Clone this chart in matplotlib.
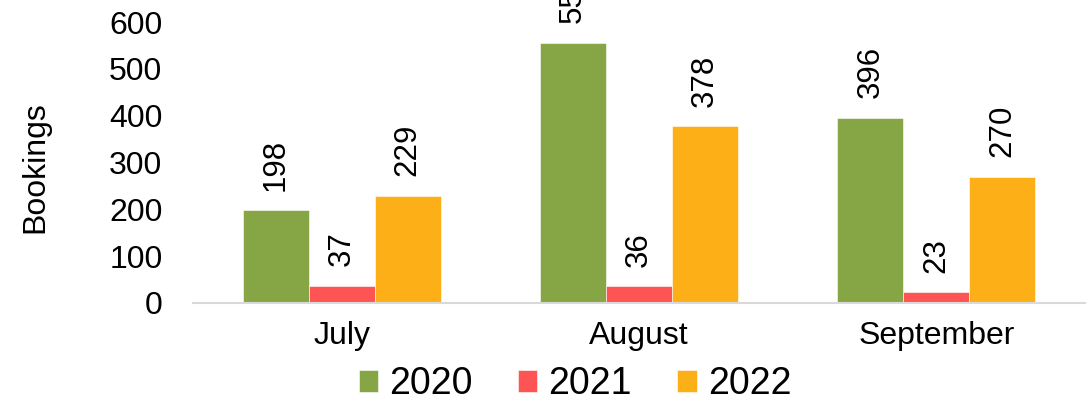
import matplotlib
matplotlib.use("Agg")
import matplotlib.pyplot as plt
import numpy as np

months = ["July", "August", "September"]
years = ["2020", "2021", "2022"]
bookings_2020 = [198, 556, 396]
bookings_2021 = [37, 36, 23]
bookings_2022 = [229, 378, 270]
colors = ["#86A545", "#FF5454", "#FCAF17"]

plt.rcParams["font.family"] = ["Liberation Sans", "DejaVu Sans"]

fig = plt.figure(figsize=(10.92, 4.01), dpi=100)
ax = fig.add_axes([193 / 1092, (401 - 303) / 401, (1085 - 193) / 1092, (303 - 22) / 401])

x = np.arange(len(months))
width = 0.222
series = [bookings_2020, bookings_2021, bookings_2022]
for i, (vals, col, lab) in enumerate(zip(series, colors, years)):
    bars = ax.bar(x + (i - 1) * width, vals, width, color=col, label=lab,
                  edgecolor="white", linewidth=0.4)
    for b, v in zip(bars, vals):
        ax.annotate(str(v), (b.get_x() + b.get_width() / 2, v),
                    xytext=(0, 14), textcoords="offset points",
                    rotation=90, ha="center", va="bottom", fontsize=22.5,
                    annotation_clip=False)

ax.set_xlim(-0.5, 2.5)
ax.set_ylim(0, 600)
ax.set_yticks(range(0, 601, 100))
ax.set_xticks(x)
ax.set_xticklabels(months)
ax.tick_params(axis="both", length=0, labelsize=23)
ax.tick_params(axis="y", pad=22)
ax.tick_params(axis="x", pad=13)
for s in ["top", "right", "left"]:
    ax.spines[s].set_visible(False)
ax.spines["bottom"].set_color("#D9D9D9")
ax.spines["bottom"].set_linewidth(1.5)

fig.text(35 / 1092, 1 - 167.5 / 401, "Bookings", rotation=90, fontsize=23,
         ha="center", va="center")

fig.legend(loc="center", bbox_to_anchor=(575 / 1092, 1 - 384 / 401), ncol=3,
           frameon=False, fontsize=27, handlelength=0.52, handleheight=0.52,
           handletextpad=0.3, columnspacing=1.2)

fig.savefig("out.png", dpi=100)
